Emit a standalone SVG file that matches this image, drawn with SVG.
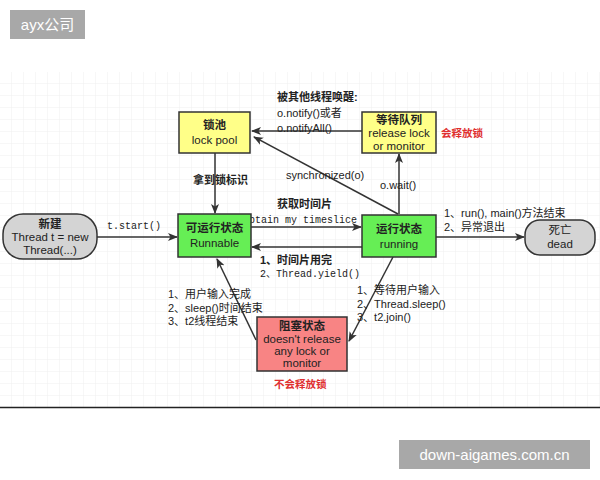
<svg xmlns="http://www.w3.org/2000/svg" width="600" height="480" viewBox="0 0 600 480">
<defs>
<pattern id="grid" x="0" y="72" width="12" height="12" patternUnits="userSpaceOnUse">
<path d="M12 0V12M0 12H12" fill="none" stroke="#efefef" stroke-width="1"/>
</pattern>
<marker id="ah" viewBox="0 0 10 10" refX="9" refY="5" markerWidth="10" markerHeight="10" markerUnits="userSpaceOnUse" orient="auto">
<path d="M0 1L10 5L0 9L2.5 5Z" fill="#333"/>
</marker>
<style>
.n{stroke:#333;stroke-width:1.5}
.y{fill:#ffff88}
.g{fill:#66ee55}
.r{fill:#f88484}
.gr{fill:#d4d4d4}
.t{font-family:"Liberation Sans","Noto Sans CJK SC",sans-serif;font-size:11.5px;fill:#222;text-anchor:middle}
.b{font-weight:bold}
.l{font-family:"Liberation Sans","Noto Sans CJK SC",sans-serif;font-size:11px;fill:#222}
.m{font-family:"Liberation Mono","Noto Sans CJK SC",monospace;font-size:10px;fill:#222}
.red{font-family:"Noto Sans CJK SC",sans-serif;font-size:10.5px;fill:#e03030;font-weight:bold}
.c{stroke:#333;stroke-width:1.5;fill:none;marker-end:url(#ah)}
.wm{font-family:"Liberation Sans","Noto Sans CJK SC",sans-serif;font-size:15px;fill:#fff}
</style>
</defs>
<rect width="600" height="480" fill="#fff"/>
<rect x="0" y="72" width="600" height="335" fill="url(#grid)"/>
<line x1="0" y1="407.5" x2="600" y2="407.5" stroke="#222" stroke-width="1.5"/>

<g id="connectors">
<line class="c" x1="97" y1="237" x2="177" y2="237"/>
<line class="c" x1="215" y1="153" x2="215" y2="213"/>
<line class="c" x1="362" y1="131" x2="252" y2="131"/>
<line class="c" x1="398" y1="214" x2="254" y2="137"/>
<line class="c" x1="399" y1="214" x2="399" y2="154"/>
<line class="c" x1="251" y1="227" x2="361" y2="227"/>
<line class="c" x1="362" y1="247" x2="252" y2="247"/>
<line class="c" x1="436" y1="237" x2="524" y2="237"/>
<line class="c" x1="393" y1="257" x2="349" y2="341"/>
<line class="c" x1="256" y1="340" x2="217" y2="259"/>
</g>

<g id="labels">
<text class="m" x="107" y="229">t.start()</text>
<text class="l b" x="193" y="184">拿到锁标识</text>
<text class="l b" x="277" y="101">被其他线程唤醒:</text>
<text class="l" x="277" y="117">o.notify()或者</text>
<text class="l" x="277" y="132">o.notifyAll()</text>
<text class="l" x="286" y="179">synchronized(o)</text>
<text class="l" x="380" y="189">o.wait()</text>
<text class="red" x="441" y="137">会释放锁</text>
<text class="l b" x="277" y="208">获取时间片</text>
<text class="m" x="243" y="223">obtain my timeslice</text>
<text class="l b" x="260" y="264">1、时间片用完</text>
<text class="m" x="260" y="277">2、Thread.yield()</text>
<text class="l" x="444" y="217">1、run(), main()方法结束</text>
<text class="l" x="444" y="231">2、异常退出</text>
<text class="l" x="357" y="294">1、等待用户输入</text>
<text class="l" x="357" y="308">2、Thread.sleep()</text>
<text class="l" x="357" y="321">3、t2.join()</text>
<text class="l" x="168" y="298">1、用户输入完成</text>
<text class="l" x="168" y="312">2、sleep()时间结束</text>
<text class="l" x="168" y="325">3、t2线程结束</text>
<text class="red" x="274" y="388">不会释放锁</text>
</g>

<g id="new">
<rect class="n gr" x="3" y="214" width="94" height="45" rx="20"/>
<text class="t b" x="50" y="228">新建</text>
<text class="t" x="50" y="241">Thread t = new</text>
<text class="t" x="50" y="254">Thread(...)</text>
</g>
<g id="lockpool">
<rect class="n y" x="179" y="112" width="71" height="41"/>
<text class="t b" x="214.5" y="129">锁池</text>
<text class="t" x="214.5" y="144">lock pool</text>
</g>
<g id="waitqueue">
<rect class="n y" x="362" y="112" width="74" height="41"/>
<text class="t b" x="399" y="124">等待队列</text>
<text class="t" x="399" y="137">release lock</text>
<text class="t" x="399" y="150">or monitor</text>
</g>
<g id="runnable">
<rect class="n g" x="178" y="214" width="73" height="43"/>
<text class="t b" x="214.5" y="232">可运行状态</text>
<text class="t" x="214.5" y="247">Runnable</text>
</g>
<g id="running">
<rect class="n g" x="362" y="215" width="74" height="42"/>
<text class="t b" x="399" y="233">运行状态</text>
<text class="t" x="399" y="248">running</text>
</g>
<g id="dead">
<rect class="n gr" x="525" y="220" width="70" height="35" rx="15"/>
<text class="t" x="560" y="234">死亡</text>
<text class="t" x="560" y="248">dead</text>
</g>
<g id="blocked">
<rect class="n r" x="257" y="317" width="90" height="54"/>
<text class="t b" x="302" y="330">阻塞状态</text>
<text class="t" x="302" y="343">doesn't release</text>
<text class="t" x="302" y="355">any lock or</text>
<text class="t" x="302" y="367">monitor</text>
</g>

<g id="watermarks">
<rect x="10" y="10" width="75" height="29" fill="#a8a8a8"/>
<text class="wm" x="47.5" y="30" text-anchor="middle">ayx公司</text>
<rect x="399" y="440" width="191" height="29" fill="#a8a8a8"/>
<text class="wm" x="494.5" y="460" text-anchor="middle">down-aigames.com.cn</text>
</g>
</svg>
